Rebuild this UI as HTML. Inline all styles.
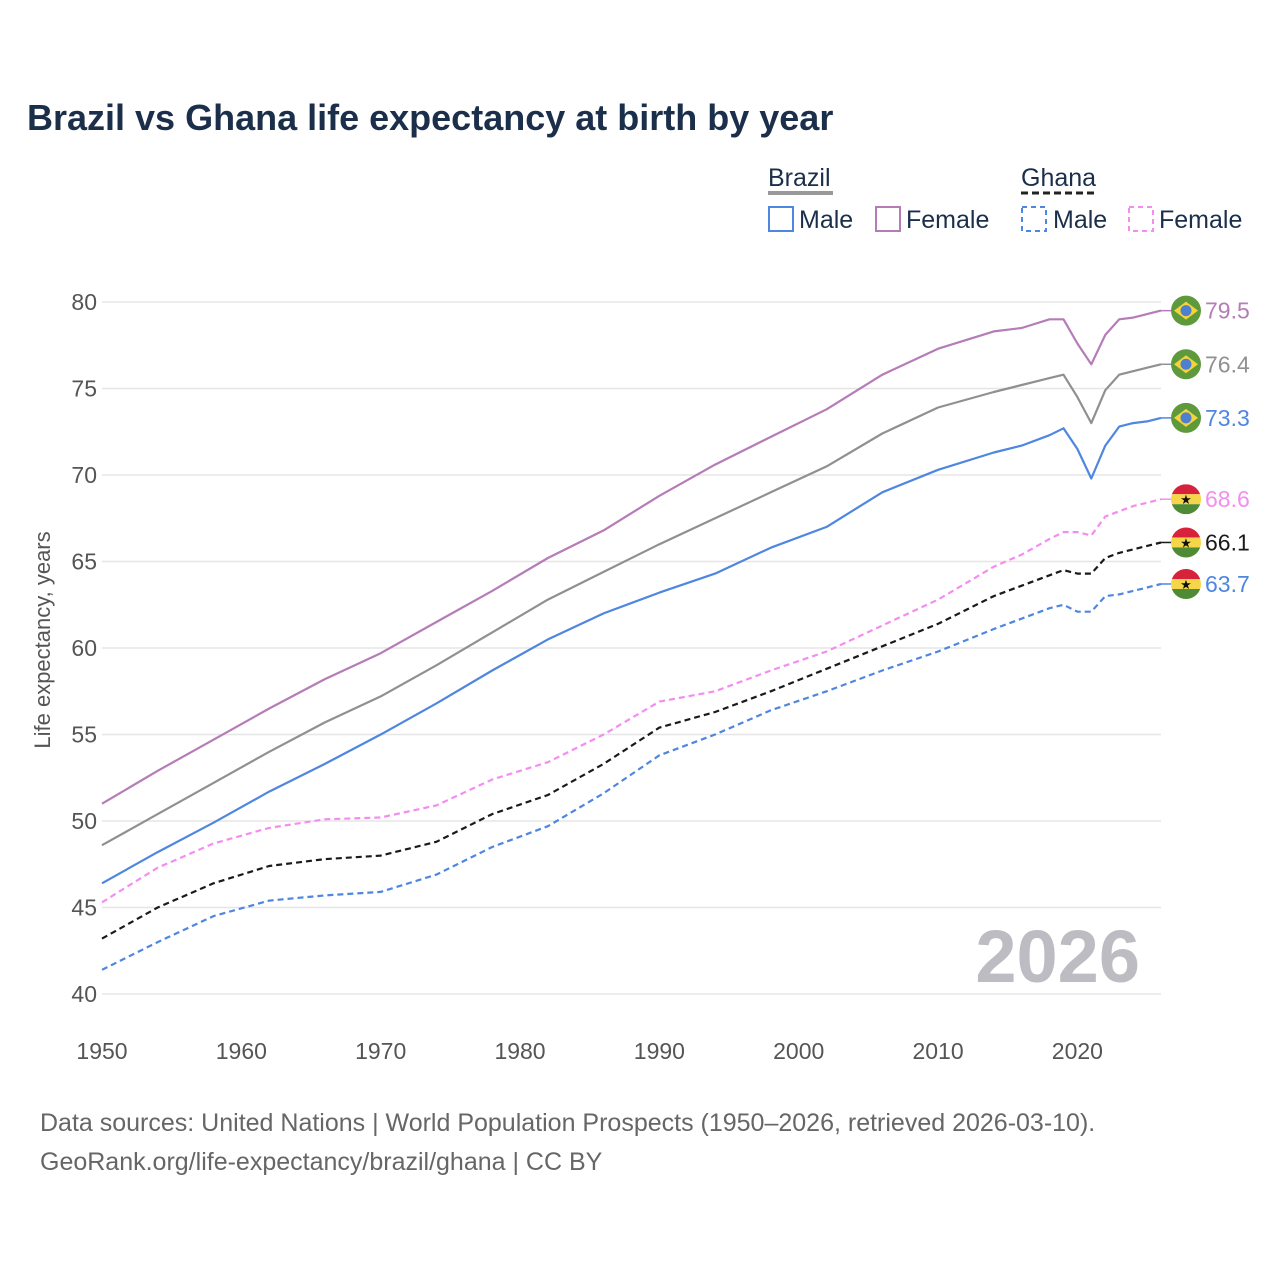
<!DOCTYPE html>
<html><head><meta charset="utf-8"><style>
body{margin:0;background:#fff;font-family:"Liberation Sans",sans-serif;}
svg{display:block}
</style></head><body>
<svg id="chart" width="1280" height="1280" viewBox="0 0 1280 1280">
<rect width="1280" height="1280" fill="#fff"/>
<text x="27" y="130" font-size="36" font-weight="bold" fill="#1b2f4b">Brazil vs Ghana life expectancy at birth by year</text>
<g font-size="25" fill="#1b2f4b">
  <text x="768" y="186">Brazil</text>
  <line x1="768" y1="193" x2="833" y2="193" stroke="#999" stroke-width="4"/>
  <text x="1021" y="186">Ghana</text>
  <line x1="1021" y1="193" x2="1095" y2="193" stroke="#222" stroke-width="3" stroke-dasharray="7,4"/>
  <rect x="769" y="207" width="24" height="24" fill="none" stroke="#4e86e0" stroke-width="2"/>
  <text x="799" y="228">Male</text>
  <rect x="876" y="207" width="24" height="24" fill="none" stroke="#b57cb7" stroke-width="2"/>
  <text x="906" y="228">Female</text>
  <rect x="1022" y="207" width="24" height="24" fill="none" stroke="#4e86e0" stroke-width="2" stroke-dasharray="5,4"/>
  <text x="1053" y="228">Male</text>
  <rect x="1129" y="207" width="24" height="24" fill="none" stroke="#f58cf0" stroke-width="2" stroke-dasharray="5,4"/>
  <text x="1159" y="228">Female</text>
</g>
<g id="grid"></g>
<g id="lines"></g>
<g id="ends"></g>
<text x="1140" y="982" text-anchor="end" font-size="74" font-weight="bold" fill="#bcbcc2">2026</text>
<text transform="translate(50,640) rotate(-90)" text-anchor="middle" font-size="22" fill="#555">Life expectancy, years</text>
<text x="40" y="1131" font-size="25" fill="#666">Data sources: United Nations | World Population Prospects (1950–2026, retrieved 2026-03-10).</text>
<text x="40" y="1170" font-size="25" fill="#666">GeoRank.org/life-expectancy/brazil/ghana | CC BY</text>
</svg>
<script>
const years=[1950,1954,1958,1962,1966,1970,1974,1978,1982,1986,1990,1994,1998,2002,2006,2010,2014,2016,2018,2019,2020,2021,2022,2023,2024,2025,2026];
const brazilFemale=[51.0,52.9,54.7,56.5,58.2,59.7,61.5,63.3,65.2,66.8,68.8,70.6,72.2,73.8,75.8,77.3,78.3,78.5,79.0,79.0,77.6,76.4,78.1,79.0,79.1,79.3,79.5];
const brazilTotal=[48.6,50.4,52.2,54.0,55.7,57.2,59.0,60.9,62.8,64.4,66.0,67.5,69.0,70.5,72.4,73.9,74.8,75.2,75.6,75.8,74.5,73.0,74.9,75.8,76.0,76.2,76.4];
const brazilMale=[46.4,48.2,49.9,51.7,53.3,55.0,56.8,58.7,60.5,62.0,63.2,64.3,65.8,67.0,69.0,70.3,71.3,71.7,72.3,72.7,71.5,69.8,71.7,72.8,73.0,73.1,73.3];
const ghanaFemale=[45.3,47.3,48.7,49.6,50.1,50.2,50.9,52.4,53.4,55.0,56.9,57.5,58.7,59.8,61.3,62.8,64.7,65.4,66.3,66.7,66.7,66.5,67.6,67.9,68.2,68.4,68.6];
const ghanaTotal=[43.2,45.0,46.4,47.4,47.8,48.0,48.8,50.4,51.5,53.3,55.4,56.3,57.5,58.8,60.1,61.4,63.0,63.6,64.2,64.5,64.3,64.3,65.2,65.5,65.7,65.9,66.1];
const ghanaMale=[41.4,43.0,44.5,45.4,45.7,45.9,46.9,48.5,49.7,51.6,53.8,55.0,56.4,57.5,58.7,59.8,61.1,61.7,62.3,62.5,62.1,62.1,63.0,63.1,63.3,63.5,63.7];
const yTicks=[40,45,50,55,60,65,70,75,80];
const xTicks=[1950,1960,1970,1980,1990,2000,2010,2020];

const NS='http://www.w3.org/2000/svg';
const X=y=>102+(y-1950)*(1161-102)/76;
const Y=v=>994-(v-40)*(994-302)/40;
function mk(tag,attrs,parent){const e=document.createElementNS(NS,tag);for(const k in attrs)e.setAttribute(k,attrs[k]);parent.appendChild(e);return e;}
const grid=document.getElementById('grid'),lines=document.getElementById('lines'),ends=document.getElementById('ends');
yTicks.forEach(t=>{
  const l=mk('line',{x1:102,x2:1161,y1:Y(t),y2:Y(t),stroke:'#e6e6e6','stroke-width':1.5},grid);
  
  
  const tx=mk('text',{x:97,y:Y(t)+8,'text-anchor':'end','font-size':23,fill:'#555'},grid);
  tx.textContent=t;
  
  
});
xTicks.forEach(t=>{
  const tx=mk('text',{x:X(t),y:1059,'text-anchor':'middle','font-size':23,fill:'#555'},grid);
  tx.textContent=t;
  
  
});
const series=[
 {d:brazilFemale,c:'#b57cb7',dash:null,lc:'#b57cb7',flag:'br',name:'brazil-female'},
 {d:brazilTotal,c:'#909090',dash:null,lc:'#909090',flag:'br',name:'brazil-total'},
 {d:brazilMale,c:'#4e86e0',dash:null,lc:'#4e86e0',flag:'br',name:'brazil-male'},
 {d:ghanaFemale,c:'#f58cf0',dash:'6,4',lc:'#f58cf0',flag:'gh',name:'ghana-female'},
 {d:ghanaTotal,c:'#1a1a1a',dash:'6,4',lc:'#1a1a1a',flag:'gh',name:'ghana-total'},
 {d:ghanaMale,c:'#4e86e0',dash:'6,4',lc:'#4e86e0',flag:'gh',name:'ghana-male'}
];
series.forEach(s=>{
  const pts=years.map((y,i)=>X(y).toFixed(1)+','+Y(s.d[i]).toFixed(1)).join(' ');
  const a={points:pts,fill:'none',stroke:s.c,'stroke-width':2.2,'stroke-linejoin':'round'};
  if(s.dash)a['stroke-dasharray']=s.dash;
  const p=mk('polyline',a,lines);
  
  
  const last=s.d[s.d.length-1];
  const cx=1186,cy=Y(last);
  const g=mk('g',{},ends);
  
  
  mk('line',{x1:1161,x2:1172,y1:cy,y2:cy,stroke:s.c,'stroke-width':1.5},g);
  if(s.flag==='br'){
    mk('circle',{cx:cx,cy:cy,r:15,fill:'#5e9a3c'},g);
    mk('polygon',{points:`${cx-12},${cy} ${cx},${cy-9} ${cx+12},${cy} ${cx},${cy+9}`,fill:'#f3d43a'},g);
    mk('circle',{cx:cx,cy:cy,r:5.5,fill:'#4e7fd0'},g);
  }else{
    const id='clip'+s.name;
    const cp=mk('clipPath',{id:id},g);mk('circle',{cx:cx,cy:cy,r:15},cp);
    const gg=mk('g',{'clip-path':`url(#${id})`},g);
    mk('rect',{x:cx-15,y:cy-15,width:30,height:10,fill:'#d8213a'},gg);
    mk('rect',{x:cx-15,y:cy-5,width:30,height:10,fill:'#f6d649'},gg);
    mk('rect',{x:cx-15,y:cy+5,width:30,height:10,fill:'#4f8a35'},gg);
    const st=mk('text',{x:cx,y:cy+5,'text-anchor':'middle','font-size':13,fill:'#111'},gg);st.textContent='★';
  }
  const t=mk('text',{x:1205,y:cy+8,'font-size':23,fill:s.lc},g);
  t.textContent=last.toFixed(1);
  
  
});
</script>
</body></html>
